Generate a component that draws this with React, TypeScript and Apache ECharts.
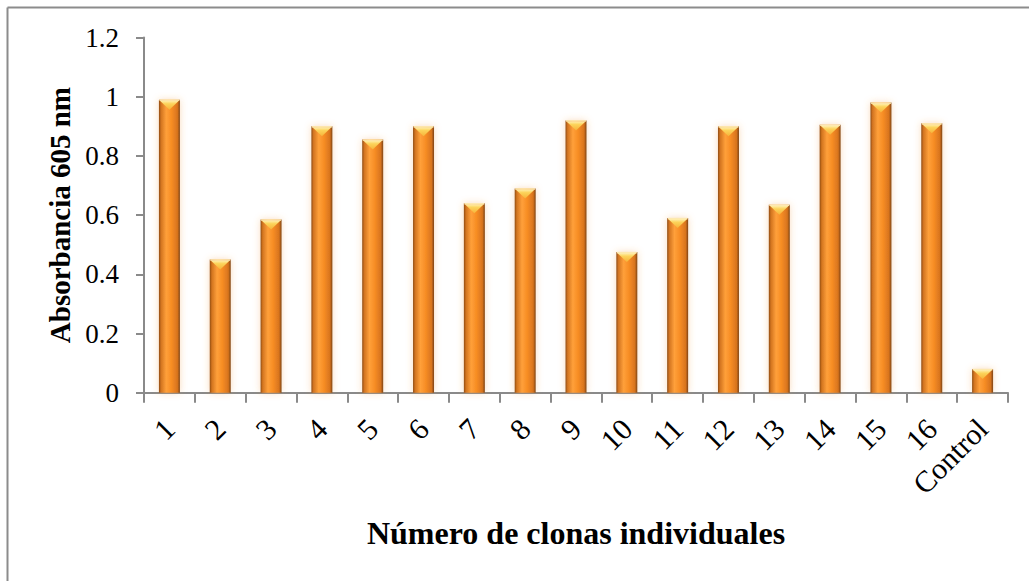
import React, { useEffect, useRef } from "react";
import * as echarts from "echarts";

// Clone numbers along the x axis, plus the control well
const categories = ["1", "2", "3", "4", "5", "6", "7", "8", "9", "10", "11", "12", "13", "14", "15", "16", "Control"];
// Absorbance at 605 nm for each clone
const absorbance = [0.99, 0.45, 0.585, 0.9, 0.855, 0.9, 0.64, 0.69, 0.92, 0.475, 0.59, 0.9, 0.635, 0.905, 0.98, 0.91, 0.08];
// Value-axis range
const yMin = 0;
const yMax = 1.2;
const yStep = 0.2;

const SERIF = "'Liberation Serif', 'Times New Roman', serif";

export default function App() {
  const ref = useRef<HTMLDivElement>(null);

  useEffect(() => {
    if (!ref.current) return;
    const chart = echarts.init(ref.current, undefined, { renderer: "svg" });

    const bodyFill = new echarts.graphic.LinearGradient(0, 0, 1, 0, [
      { offset: 0, color: "#8f4c14" },
      { offset: 0.1, color: "#d27420" },
      { offset: 0.35, color: "#ffa03a" },
      { offset: 0.6, color: "#f78d24" },
      { offset: 0.88, color: "#d8741e" },
      { offset: 1, color: "#7e4414" },
    ]);
    const capFill = new echarts.graphic.LinearGradient(0, 0, 0, 1, [
      { offset: 0, color: "#fff0b0" },
      { offset: 0.35, color: "#fcd35a" },
      { offset: 1, color: "#f6b33a" },
    ]);

    const data = categories.map((c, i) => [i, absorbance[i]]);

    chart.setOption({
      animation: false,
      grid: { left: 144, right: 21, top: 37.5, bottom: 188.3, containLabel: false },
      xAxis: {
        type: "category",
        data: categories,
        boundaryGap: true,
        name: "Número de clonas individuales",
        nameLocation: "middle",
        nameGap: 124,
        nameTextStyle: { fontFamily: SERIF, fontSize: 32, fontWeight: "bold", color: "#000" },
        axisLine: { lineStyle: { color: "#8a8a8a", width: 2 } },
        axisTick: { show: true, alignWithLabel: false, length: 10, lineStyle: { color: "#8a8a8a", width: 2 } },
        axisLabel: {
          rotate: 45,
          interval: 0,
          margin: 31,
          fontFamily: SERIF,
          fontSize: 30,
          color: "#000",
        },
        splitLine: { show: false },
      },
      yAxis: {
        type: "value",
        min: yMin,
        max: yMax,
        interval: yStep,
        name: "Absorbancia 605 nm",
        nameLocation: "middle",
        nameRotate: 90,
        nameGap: 70,
        nameTextStyle: { fontFamily: SERIF, fontSize: 29, fontWeight: "bold", color: "#000" },
        axisLine: { show: true, lineStyle: { color: "#8a8a8a", width: 2 } },
        axisTick: { show: true, length: 8, lineStyle: { color: "#8a8a8a", width: 2 } },
        axisLabel: {
          margin: 25,
          fontFamily: SERIF,
          fontSize: 27,
          color: "#000",
          formatter: (v: number) => String(Math.round(v * 10) / 10),
        },
        splitLine: { show: false },
      },
      graphic: [
        { type: "line", shape: { x1: 7.5, y1: 7.5, x2: 1029, y2: 7.5 }, style: { stroke: "#8c8c8c", lineWidth: 2 } },
        { type: "line", shape: { x1: 7.5, y1: 7.5, x2: 7.5, y2: 581 }, style: { stroke: "#8c8c8c", lineWidth: 2 } },
      ],
      series: [
        {
          type: "custom",
          data,
          encode: { x: 0, y: 1 },
          renderItem: (params: any, api: any) => {
            const idx = api.value(0);
            const v = api.value(1);
            const top = api.coord([idx, v]);
            const base = api.coord([idx, 0]);
            const w = 21;
            const x = top[0] - w / 2;
            const h = base[1] - top[1];
            const capH = Math.min(10, h);
            return {
              type: "group",
              children: [
                {
                  type: "rect",
                  shape: { x, y: top[1], width: w, height: h },
                  style: {
                    fill: bodyFill,
                    shadowBlur: 7,
                    shadowColor: "rgba(240,150,60,0.35)",
                  },
                },
                {
                  type: "polygon",
                  shape: {
                    points: [
                      [x + 1, top[1] + 1],
                      [x + w - 1, top[1] + 1],
                      [x + w / 2, top[1] + capH],
                    ],
                  },
                  style: { fill: capFill },
                },
                {
                  type: "line",
                  shape: { x1: x + 0.5, y1: top[1] + 0.5, x2: x + w - 0.5, y2: top[1] + 0.5 },
                  style: { stroke: "#fde9b0", lineWidth: 1.5 },
                },
              ],
            };
          },
        },
      ],
    });

    return () => chart.dispose();
  }, []);

  return (
    <div
      ref={ref}
      style={{ position: "absolute", left: 0, top: 0, width: 1029, height: 581, background: "#fff" }}
    />
  );
}
